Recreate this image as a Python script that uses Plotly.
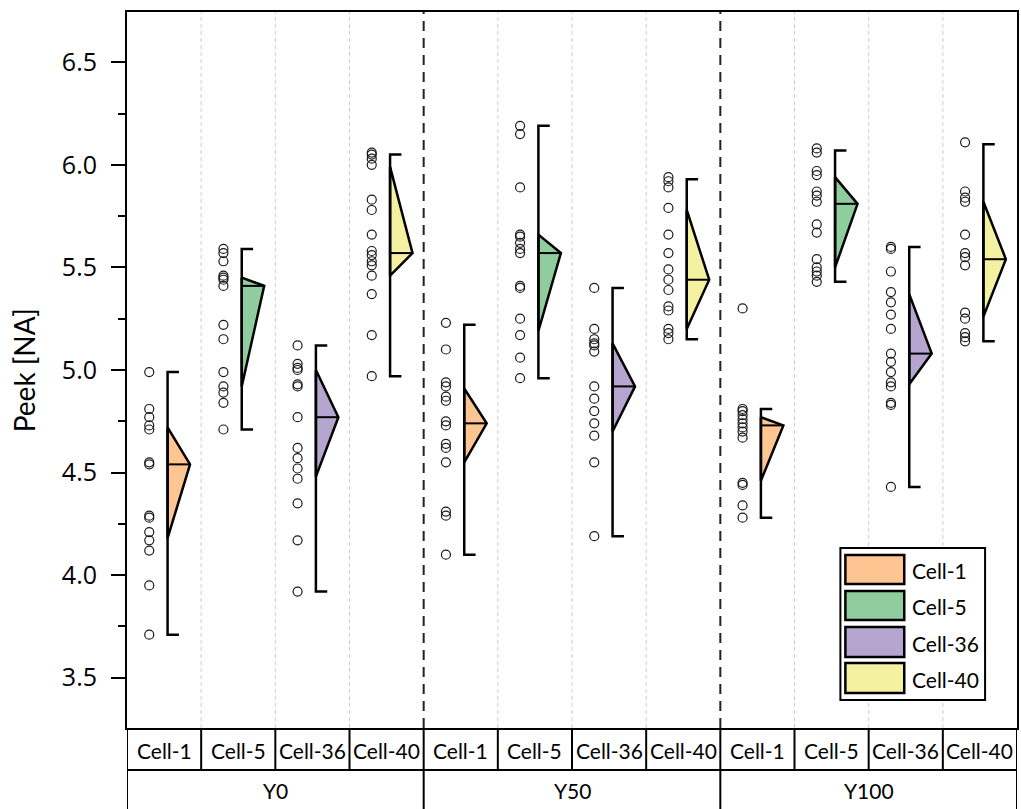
import plotly.graph_objects as go

# ---------------- data ----------------
groups = ["Y0", "Y50", "Y100"]
cells = ["Cell-1", "Cell-5", "Cell-36", "Cell-40"]
colors = ["#FCC591", "#8FCD9E", "#B6A6CF", "#F4F1A1"]

Y0_Cell1 = [4.99, 4.81, 4.77, 4.73, 4.71, 4.55, 4.54, 4.29, 4.28, 4.21, 4.17, 4.12, 3.95, 3.71]
Y0_Cell5 = [5.59, 5.57, 5.53, 5.46, 5.45, 5.44, 5.41, 5.22, 5.15, 4.99, 4.92, 4.89, 4.84, 4.71]
Y0_Cell36 = [5.12, 5.03, 5.01, 5.00, 4.93, 4.92, 4.77, 4.62, 4.57, 4.52, 4.47, 4.35, 4.17, 3.92]
Y0_Cell40 = [6.06, 6.05, 6.03, 6.00, 5.83, 5.78, 5.66, 5.58, 5.56, 5.53, 5.51, 5.46, 5.37, 5.17, 4.97]
Y50_Cell1 = [5.23, 5.10, 4.94, 4.92, 4.87, 4.85, 4.75, 4.73, 4.64, 4.62, 4.55, 4.31, 4.29, 4.10]
Y50_Cell5 = [6.19, 6.15, 5.89, 5.66, 5.65, 5.62, 5.59, 5.57, 5.41, 5.40, 5.25, 5.17, 5.06, 4.96]
Y50_Cell36 = [5.40, 5.20, 5.15, 5.13, 5.12, 5.09, 4.92, 4.86, 4.80, 4.74, 4.68, 4.55, 4.19]
Y50_Cell40 = [5.94, 5.92, 5.89, 5.79, 5.66, 5.57, 5.49, 5.44, 5.39, 5.31, 5.29, 5.20, 5.18, 5.15]
Y100_Cell1 = [5.30, 4.81, 4.80, 4.78, 4.76, 4.74, 4.72, 4.70, 4.67, 4.45, 4.44, 4.34, 4.28]
Y100_Cell5 = [6.08, 6.06, 5.97, 5.95, 5.87, 5.85, 5.82, 5.71, 5.67, 5.54, 5.50, 5.48, 5.46, 5.43]
Y100_Cell36 = [5.60, 5.59, 5.48, 5.38, 5.33, 5.27, 5.20, 5.08, 5.04, 4.99, 4.94, 4.92, 4.84, 4.83, 4.43]
Y100_Cell40 = [6.11, 5.87, 5.84, 5.82, 5.66, 5.57, 5.55, 5.51, 5.28, 5.25, 5.18, 5.16, 5.14]

points = [Y0_Cell1, Y0_Cell5, Y0_Cell36, Y0_Cell40,
          Y50_Cell1, Y50_Cell5, Y50_Cell36, Y50_Cell40,
          Y100_Cell1, Y100_Cell5, Y100_Cell36, Y100_Cell40]

# summary values (per category, in order above)
whisker_max = [4.99, 5.59, 5.12, 6.05, 5.22, 6.19, 5.40, 5.93, 4.81, 6.07, 5.60, 6.10]
whisker_min = [3.71, 4.71, 3.92, 4.97, 4.10, 4.96, 4.19, 5.15, 4.28, 5.43, 4.43, 5.14]
tri_upper = [4.72, 5.45, 5.00, 5.99, 4.91, 5.66, 5.13, 5.78, 4.77, 5.94, 5.37, 5.82]
tri_center = [4.54, 5.41, 4.77, 5.57, 4.74, 5.57, 4.92, 5.44, 4.73, 5.81, 5.08, 5.54]
tri_lower = [4.18, 4.92, 4.48, 5.46, 4.55, 5.19, 4.70, 5.20, 4.46, 5.50, 4.93, 5.26]

y_ticks = [3.5, 4.0, 4.5, 5.0, 5.5, 6.0, 6.5]

# ---------------- layout constants ----------------
W, H = 1021, 809
ML, MR, MT, MB = 127, 2, 12, 81
PW, PH = W - ML - MR, H - MT - MB
LABEL_FONT = "Lato, 'Liberation Sans', sans-serif"
TICK_FONT = "'Open Sans', 'Noto Sans', sans-serif"


def pxx(x):
    return (x - ML) / PW


def pxy(y):
    return (H - MB - y) / PH


fig = go.Figure()

n = len(points)
for i in range(n):
    col = colors[i % 4]
    xl = i + 0.047
    # triangle
    fig.add_trace(go.Scatter(
        x=[xl, i + 0.35, xl, xl],
        y=[tri_upper[i], tri_center[i], tri_lower[i], tri_upper[i]],
        mode="lines", fill="toself", fillcolor=col,
        line=dict(color="black", width=2.5), showlegend=False, hoverinfo="skip"))
    # center line
    fig.add_trace(go.Scatter(
        x=[xl, i + 0.35], y=[tri_center[i], tri_center[i]],
        mode="lines", line=dict(color="black", width=2), showlegend=False, hoverinfo="skip"))
    # bracket (whiskers)
    fig.add_trace(go.Scatter(
        x=[i + 0.2, xl, xl, i + 0.2],
        y=[whisker_max[i], whisker_max[i], whisker_min[i], whisker_min[i]],
        mode="lines", line=dict(color="black", width=2.5), showlegend=False, hoverinfo="skip"))
    # raw points
    fig.add_trace(go.Scatter(
        x=[i - 0.2] * len(points[i]), y=points[i], mode="markers",
        marker=dict(symbol="circle-open", size=9, color="#1a1a1a", line=dict(width=1.2)),
        showlegend=False, hoverinfo="skip"))

shapes = []
# vertical separators in plot
for b in range(n - 1):
    xb = b + 0.5
    if (b + 1) % 4 == 0:
        shapes.append(dict(type="line", xref="x", yref="paper", x0=xb, x1=xb, y0=0, y1=1,
                           line=dict(color="#222222", width=2, dash="10px,7px"), layer="below"))
    else:
        shapes.append(dict(type="line", xref="x", yref="paper", x0=xb, x1=xb, y0=0, y1=1,
                           line=dict(color="#cfcfcf", width=1, dash="4px,3px"), layer="below"))

# table under plot
row1_bot = pxy(770)
row2_bot = pxy(812)
shapes.append(dict(type="line", xref="paper", yref="paper", x0=0, x1=1, y0=row1_bot, y1=row1_bot,
                   line=dict(color="black", width=2)))
for b in range(n - 1):
    xb = b + 0.5
    ybot = row2_bot if (b + 1) % 4 == 0 else row1_bot
    shapes.append(dict(type="line", xref="x", yref="paper", x0=xb, x1=xb, y0=0, y1=ybot,
                       line=dict(color="black", width=2)))
for xe in [-0.5, n - 0.5]:
    shapes.append(dict(type="line", xref="x", yref="paper", x0=xe, x1=xe, y0=0, y1=row2_bot,
                       line=dict(color="black", width=2)))

annotations = []
for i in range(n):
    annotations.append(dict(x=i, y=pxy(750), xref="x", yref="paper", text=cells[i % 4],
                            showarrow=False, font=dict(family=LABEL_FONT, size=21, color="black"),
                            xanchor="center", yanchor="middle"))
for g in range(len(groups)):
    annotations.append(dict(x=g * 4 + 1.5, y=pxy(791), xref="x", yref="paper", text=groups[g],
                            showarrow=False, font=dict(family=LABEL_FONT, size=21, color="black"),
                            xanchor="center", yanchor="middle"))

# y-axis title
annotations.append(dict(x=pxx(24), y=0.5, xref="paper", yref="paper", text="Peek [NA]",
                        textangle=-90, showarrow=False, xanchor="center", yanchor="middle",
                        font=dict(family=LABEL_FONT, size=28, color="black")))

# legend (drawn manually)
shapes.append(dict(type="rect", xref="paper", yref="paper", x0=pxx(842), x1=pxx(987),
                   y0=pxy(700), y1=pxy(548), line=dict(color="black", width=2), fillcolor="white"))
rows = [(555, 584), (591, 620), (627, 657), (663, 693)]
for k, (ya, yb) in enumerate(rows):
    shapes.append(dict(type="rect", xref="paper", yref="paper", x0=pxx(847), x1=pxx(906),
                       y0=pxy(yb), y1=pxy(ya), line=dict(color="black", width=2.5),
                       fillcolor=colors[k]))
    annotations.append(dict(x=pxx(912), y=pxy((ya + yb) / 2 + 1), xref="paper", yref="paper",
                            text=cells[k], showarrow=False, xanchor="left", yanchor="middle",
                            font=dict(family=LABEL_FONT, size=21, color="black")))

fig.update_layout(
    width=W, height=H,
    margin=dict(l=ML, r=MR, t=MT, b=MB),
    paper_bgcolor="white", plot_bgcolor="white",
    shapes=shapes, annotations=annotations,
    showlegend=False,
    xaxis=dict(range=[-0.5, n - 0.5], showticklabels=False, ticks="", showgrid=False,
               zeroline=False, showline=True, mirror=True, linecolor="black", linewidth=2),
    yaxis=dict(range=[3.255, 6.745], tickvals=y_ticks, ticktext=[f"{v:.1f}" for v in y_ticks],
               ticks="outside", ticklen=14, tickwidth=2, tickcolor="black",
               ticklabelstandoff=9,
               minor=dict(ticks="outside", ticklen=7, tickwidth=2, tickcolor="black",
                          tickvals=[3.75, 4.25, 4.75, 5.25, 5.75, 6.25]),
               showgrid=False, zeroline=False, showline=True, mirror=True,
               linecolor="black", linewidth=2,
               tickfont=dict(family=TICK_FONT, size=25, color="black")),
)

fig.write_html("out.html")
